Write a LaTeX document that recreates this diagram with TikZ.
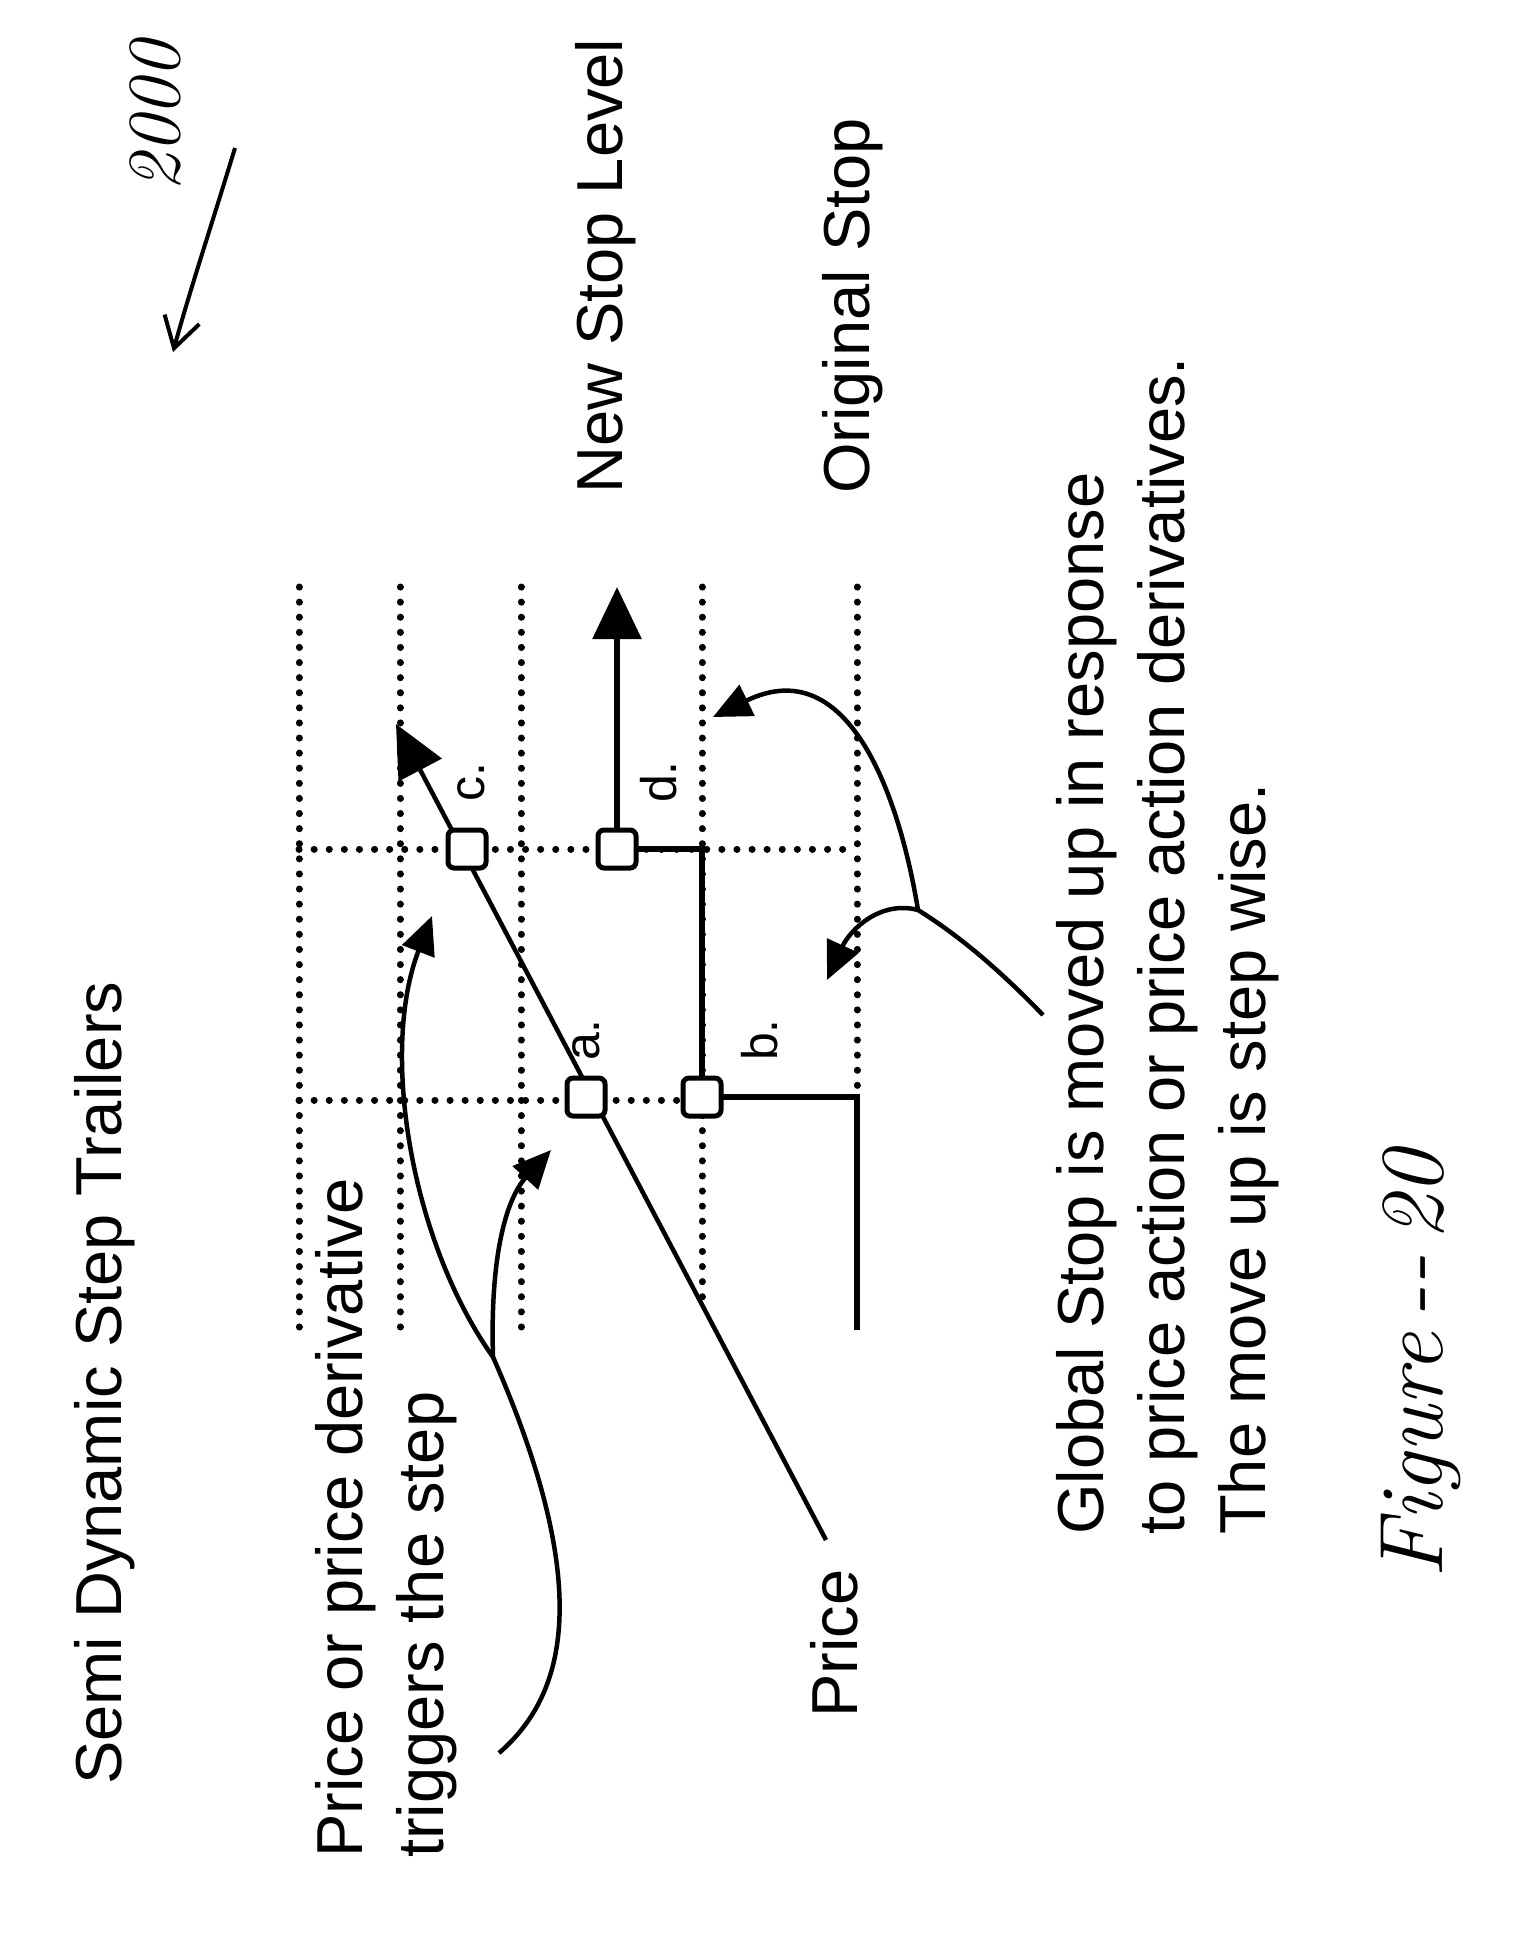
\documentclass[tikz,border=0pt]{standalone}
\usepackage{fontspec}
\setmainfont{Liberation Sans}
\usetikzlibrary{arrows.meta}
\begin{document}
\begin{tikzpicture}[x=1pt,y=-1pt,
  lbl/.style={rotate=90,anchor=west,inner sep=0pt,font=\fontsize{65}{81}\selectfont,align=left},
  dotline/.style={line width=7pt,line cap=round,dash pattern=on 0.1pt off 15pt},
  solidline/.style={line width=6pt},
  sq/.style={draw,line width=5pt,rounded corners=6pt,fill=white,minimum size=38pt,inner sep=0pt},
  bigtip/.style={-{Triangle[length=52pt,width=48pt]}},
  curvtip/.style={-{Triangle[length=38pt,width=34pt]}},
  thin/.style={line width=4.5pt},
  letter/.style={rotate=90,font=\fontsize{50}{50}\selectfont}]
\useasboundingbox (0,0) rectangle (1533,1946);
% grid
\foreach \x in {299,400,521}{\draw[dotline] (\x,587) -- (\x,1330);}
\draw[dotline] (702,587) -- (702,1298);
\draw[dotline] (857,587) -- (857,1097);
\draw[dotline] (299,849) -- (857,849);
\draw[dotline] (299,1100) -- (702,1100);
% coordinates
\coordinate (os) at (857,1330);
\coordinate (oc) at (857,1097);
\coordinate (bc) at (702,849);
\coordinate (nt) at (617,587);
\coordinate (ps) at (826,1540);
\coordinate (pt) at (396,724);
% stop path
\draw[solidline] (os) -- (oc) -- (702,1097) -- (bc) -- (617,849);
\draw[solidline,bigtip] (617,849) -- (nt);
% price
\draw[thin,bigtip] (ps) -- (pt);
\node[sq] (a) at (586,1097) {};
\node[sq] (b) at (702,1097) {};
\node[sq] (c) at (467,849) {};
\node[sq] (d) at (617,849) {};
\node[letter] (la) at (586,1040) {a.};
\node[letter] (lb) at (760,1040) {b.};
\node[letter] (lc) at (471,782) {c.};
\node[letter] (ld) at (659,782) {d.};
% curved arrows left
\coordinate (s1) at (499,1753);
\coordinate (f1) at (493,1357);
\coordinate (t1) at (432,916);
\coordinate (t2) at (551,1150);
\draw[thin] (s1) .. controls (560,1700) and (600,1600) .. (f1);
\draw[thin,curvtip] (f1) .. controls (410,1240) and (380,1050) .. (t1);
\draw[thin,curvtip] (f1) .. controls (490,1260) and (505,1200) .. (t2);
% curved arrows right
\coordinate (s2) at (1043,1015);
\coordinate (f2) at (918,910);
\coordinate (t3) at (713,717);
\coordinate (t4) at (827,980);
\draw[thin] (s2) .. controls (990,960) and (950,930) .. (f2);
\draw[thin,curvtip] (f2) .. controls (900,800) and (850,650) .. (t3);
\draw[thin,curvtip] (f2) .. controls (880,900) and (850,930) .. (t4);
% texts
\node[lbl] (title) at (105,1785) {Semi Dynamic Step Trailers};
\node[lbl] (trig) at (386,1858) {Price or price derivative\\triggers the step};
\node[lbl] (price) at (834,1718) {Price};
\node[lbl] (nsl) at (606,494) {New Stop Level};
\node[lbl] (ost) at (853,494) {Original Stop};
\node[lbl] (glob) at (1168,1535) {Global Stop is moved up in response\\to price action or price action derivatives.\\The move up is step wise.};
% handwritten
\node[rotate=90,anchor=west,font=\fontsize{75}{75}\itshape\fontspec{Latin Modern Roman}] (num) at (155,195) {2000};
\coordinate (ha) at (235,148);
\coordinate (hb) at (173,352);
\draw[line width=4pt,-{Straight Barb[length=30pt,width=36pt]}] (ha) .. controls (210,230) and (190,290) .. (hb);
\node[rotate=90,anchor=west,font=\fontsize{90}{90}\itshape\fontspec{Latin Modern Roman}] (fig) at (1421,1582) {Figure\,--\,20};
\end{tikzpicture}
\end{document}
